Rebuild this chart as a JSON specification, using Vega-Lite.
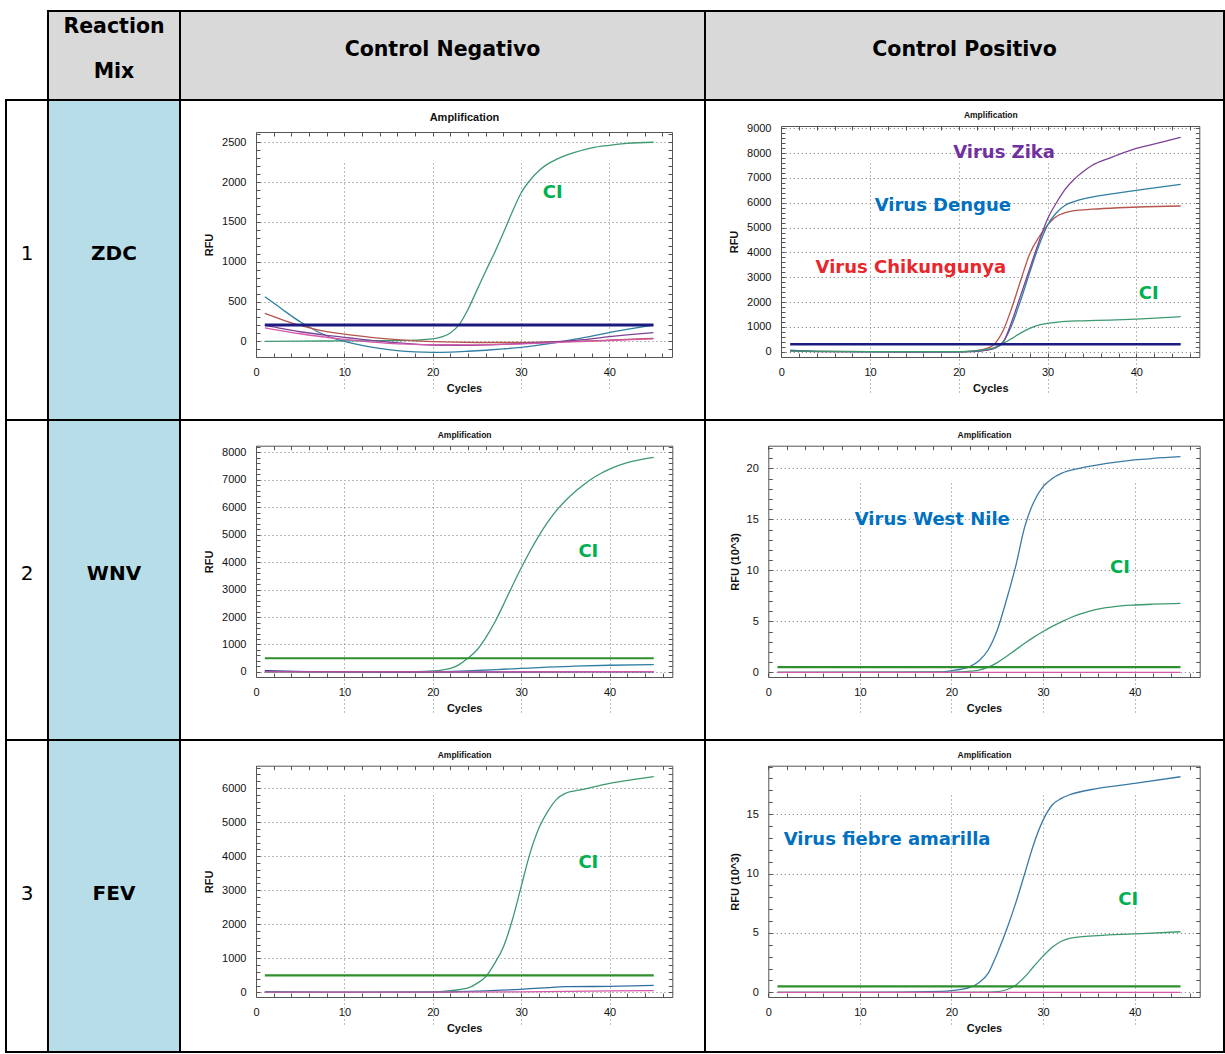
{
"$schema": "https://vega.github.io/schema/vega-lite/v6.json",
"padding": {"left": 5, "top": 10, "right": 0, "bottom": 0},
"background": "white",
"bounds": "flush",
"spacing": 0,
"columns": 4,
"config": {
  "view": {"stroke": "#000000", "strokeWidth": 2},
  "axis": {"labelFont": "Liberation Sans", "labelFontSize": 11, "labelColor": "#111111", "titleFont": "Liberation Sans", "titleFontSize": 11, "titleFontWeight": "bold", "titleColor": "#111111", "domainColor": "#555555", "domainWidth": 1, "tickColor": "#555555", "tickSize": -4, "tickWidth": 1, "gridColor": "#777777", "gridDash": [1, 3], "gridWidth": 1, "labelFlush": false, "labelOverlap": false, "format": "d"},
  "line": {"strokeWidth": 1.3, "interpolate": "monotone"},
  "text": {"font": "DejaVu Sans"}
},
"concat": [
    {"width": 42, "height": 89, "view": {"stroke": null, "fill": null}, "data": {"values": [{"t": ""}]}, "mark": {"type": "text"}, "encoding": {"text": {"field": "t"}}},
    {"width": 132, "height": 89, "view": {"fill": "#d9d9d9", "stroke": "#000000", "strokeWidth": 2}, "data": {"values": [{"t": "Reaction\nMix"}]}, "mark": {"type": "text", "font": "DejaVu Sans", "fontWeight": "bold", "fontSize": 20.5, "lineBreak": "\n", "lineHeight": 45, "dy": -28.5, "color": "#000000"}, "encoding": {"text": {"field": "t"}}},
    {"width": 525, "height": 89, "view": {"fill": "#d9d9d9", "stroke": "#000000", "strokeWidth": 2}, "data": {"values": [{"t": "Control Negativo"}]}, "mark": {"type": "text", "font": "DejaVu Sans", "fontWeight": "bold", "fontSize": 20.5, "dy": -6, "color": "#000000"}, "encoding": {"text": {"field": "t"}}},
    {"width": 519, "height": 89, "view": {"fill": "#d9d9d9", "stroke": "#000000", "strokeWidth": 2}, "data": {"values": [{"t": "Control Positivo"}]}, "mark": {"type": "text", "font": "DejaVu Sans", "fontWeight": "bold", "fontSize": 20.5, "dy": -6, "color": "#000000"}, "encoding": {"text": {"field": "t"}}},
    {"width": 42, "height": 320, "view": {"fill": "#ffffff", "stroke": "#000000", "strokeWidth": 2}, "data": {"values": [{"t": "1"}]}, "mark": {"type": "text", "font": "DejaVu Sans", "fontSize": 20, "dy": -6, "color": "#000000"}, "encoding": {"text": {"field": "t"}}},
    {"width": 132, "height": 320, "view": {"fill": "#b7dde8", "stroke": "#000000", "strokeWidth": 2}, "data": {"values": [{"t": "ZDC"}]}, "mark": {"type": "text", "font": "DejaVu Sans", "fontWeight": "bold", "fontSize": 20, "dy": -6, "color": "#000000"}, "encoding": {"text": {"field": "t"}}},
    {"width": 525, "height": 320,
     "data": {"values": [
        {"serie":"CI","cycle":1,"rfu":0},{"serie":"CI","cycle":5,"rfu":3},{"serie":"CI","cycle":10,"rfu":5},{"serie":"CI","cycle":15,"rfu":8},{"serie":"CI","cycle":18,"rfu":15},{"serie":"CI","cycle":20,"rfu":30},{"serie":"CI","cycle":21,"rfu":55},{"serie":"CI","cycle":22,"rfu":105},{"serie":"CI","cycle":23,"rfu":210},{"serie":"CI","cycle":24,"rfu":400},{"serie":"CI","cycle":25,"rfu":640},{"serie":"CI","cycle":26,"rfu":880},{"serie":"CI","cycle":27,"rfu":1110},{"serie":"CI","cycle":28,"rfu":1360},{"serie":"CI","cycle":29,"rfu":1620},{"serie":"CI","cycle":30,"rfu":1860},{"serie":"CI","cycle":31,"rfu":2020},{"serie":"CI","cycle":32,"rfu":2140},{"serie":"CI","cycle":33,"rfu":2225},{"serie":"CI","cycle":34,"rfu":2285},{"serie":"CI","cycle":36,"rfu":2370},{"serie":"CI","cycle":38,"rfu":2430},{"serie":"CI","cycle":40,"rfu":2462},{"serie":"CI","cycle":42,"rfu":2485},{"serie":"CI","cycle":45,"rfu":2500},
        {"serie":"Virus Dengue","cycle":1,"rfu":561},{"serie":"Virus Dengue","cycle":2,"rfu":480},{"serie":"Virus Dengue","cycle":3,"rfu":400},{"serie":"Virus Dengue","cycle":4,"rfu":320},{"serie":"Virus Dengue","cycle":5,"rfu":245},{"serie":"Virus Dengue","cycle":6,"rfu":180},{"serie":"Virus Dengue","cycle":7,"rfu":120},{"serie":"Virus Dengue","cycle":8,"rfu":70},{"serie":"Virus Dengue","cycle":9,"rfu":30},{"serie":"Virus Dengue","cycle":10,"rfu":0},{"serie":"Virus Dengue","cycle":12,"rfu":-50},{"serie":"Virus Dengue","cycle":14,"rfu":-90},{"serie":"Virus Dengue","cycle":16,"rfu":-118},{"serie":"Virus Dengue","cycle":18,"rfu":-133},{"serie":"Virus Dengue","cycle":20,"rfu":-138},{"serie":"Virus Dengue","cycle":22,"rfu":-135},{"serie":"Virus Dengue","cycle":24,"rfu":-125},{"serie":"Virus Dengue","cycle":26,"rfu":-112},{"serie":"Virus Dengue","cycle":28,"rfu":-95},{"serie":"Virus Dengue","cycle":30,"rfu":-75},{"serie":"Virus Dengue","cycle":32,"rfu":-48},{"serie":"Virus Dengue","cycle":34,"rfu":-15},{"serie":"Virus Dengue","cycle":36,"rfu":25},{"serie":"Virus Dengue","cycle":38,"rfu":65},{"serie":"Virus Dengue","cycle":40,"rfu":110},{"serie":"Virus Dengue","cycle":42,"rfu":150},{"serie":"Virus Dengue","cycle":45,"rfu":205},
        {"serie":"Virus Chikungunya","cycle":1,"rfu":350},{"serie":"Virus Chikungunya","cycle":3,"rfu":270},{"serie":"Virus Chikungunya","cycle":5,"rfu":200},{"serie":"Virus Chikungunya","cycle":7,"rfu":145},{"serie":"Virus Chikungunya","cycle":10,"rfu":90},{"serie":"Virus Chikungunya","cycle":13,"rfu":50},{"serie":"Virus Chikungunya","cycle":16,"rfu":20},{"serie":"Virus Chikungunya","cycle":20,"rfu":-5},{"serie":"Virus Chikungunya","cycle":25,"rfu":-15},{"serie":"Virus Chikungunya","cycle":30,"rfu":-15},{"serie":"Virus Chikungunya","cycle":35,"rfu":-5},{"serie":"Virus Chikungunya","cycle":40,"rfu":15},{"serie":"Virus Chikungunya","cycle":45,"rfu":38},
        {"serie":"Virus Zika","cycle":1,"rfu":205},{"serie":"Virus Zika","cycle":3,"rfu":160},{"serie":"Virus Zika","cycle":5,"rfu":120},{"serie":"Virus Zika","cycle":8,"rfu":75},{"serie":"Virus Zika","cycle":10,"rfu":50},{"serie":"Virus Zika","cycle":12,"rfu":25},{"serie":"Virus Zika","cycle":15,"rfu":-10},{"serie":"Virus Zika","cycle":18,"rfu":-35},{"serie":"Virus Zika","cycle":20,"rfu":-46},{"serie":"Virus Zika","cycle":24,"rfu":-50},{"serie":"Virus Zika","cycle":28,"rfu":-38},{"serie":"Virus Zika","cycle":32,"rfu":-18},{"serie":"Virus Zika","cycle":34,"rfu":-5},{"serie":"Virus Zika","cycle":37,"rfu":20},{"serie":"Virus Zika","cycle":40,"rfu":58},{"serie":"Virus Zika","cycle":42,"rfu":80},{"serie":"Virus Zika","cycle":45,"rfu":108},
        {"serie":"Canal 5","cycle":1,"rfu":170},{"serie":"Canal 5","cycle":5,"rfu":95},{"serie":"Canal 5","cycle":10,"rfu":25},{"serie":"Canal 5","cycle":15,"rfu":-25},{"serie":"Canal 5","cycle":20,"rfu":-42},{"serie":"Canal 5","cycle":25,"rfu":-45},{"serie":"Canal 5","cycle":30,"rfu":-32},{"serie":"Canal 5","cycle":35,"rfu":-10},{"serie":"Canal 5","cycle":40,"rfu":10},{"serie":"Canal 5","cycle":45,"rfu":30},
        {"serie":"Umbral","cycle":1,"rfu":205},{"serie":"Umbral","cycle":45,"rfu":205}
     ]},
     "layer": [
      {"transform": [{"filter": "datum.serie !== 'Umbral'"}],
       "mark": {"type": "line"},
       "encoding": {
        "x": {"field": "cycle", "type": "quantitative", "scale": {"domain": [0, 47.1], "range": [76, 492], "nice": false, "zero": false},
              "axis": {"orient": "bottom", "offset": -63, "values": [0,2,4,6,8,10,12,14,16,18,20,22,24,26,28,30,32,34,36,38,40,42,44,46], "labelExpr": "datum.value % 10 === 0 ? datum.label : ''", "labelPadding": 13, "grid": true, "gridOpacity": {"condition": {"test": "datum.value % 10 === 0 && datum.value > 0", "value": 1}, "value": 0}, "title": "Cycles", "titlePadding": 5}},
        "y": {"field": "rfu", "type": "quantitative", "scale": {"domain": [-197, 2629], "range": [257, 32], "nice": false, "zero": false},
              "axis": {"orient": "left", "offset": -76, "values": [-100,0,100,200,300,400,500,600,700,800,900,1000,1100,1200,1300,1400,1500,1600,1700,1800,1900,2000,2100,2200,2300,2400,2500,2600], "labelExpr": "datum.value % 500 === 0 ? datum.label : ''", "labelPadding": 14, "grid": true, "gridOpacity": {"condition": {"test": "datum.value % 500 === 0", "value": 1}, "value": 0}, "title": "RFU", "titlePadding": 7}},
        "color": {"field": "serie", "type": "nominal", "scale": {"domain": ["CI","Virus Dengue","Virus Chikungunya","Virus Zika","Canal 5"], "range": ["#3d9970","#2f7fa3","#b5544a","#7d4196","#d658a8"]}, "legend": null}
       }},
      {"transform": [{"filter": "datum.serie === 'Umbral'"}],
       "mark": {"type": "line", "color": "#1a1a80", "strokeWidth": 3},
       "encoding": {"x": {"field": "cycle", "type": "quantitative", "axis": null}, "y": {"field": "rfu", "type": "quantitative", "axis": null}}},
      {"data": {"values": [{"label": "CI", "cycle": 33.6, "rfu": 1863}]},
       "mark": {"type": "text", "font": "DejaVu Sans", "fontWeight": "bold", "fontSize": 18},
       "encoding": {
        "x": {"field": "cycle", "type": "quantitative", "axis": {"orient": "top", "offset": -32, "values": [0,2,4,6,8,10,12,14,16,18,20,22,24,26,28,30,32,34,36,38,40,42,44,46], "labels": false, "grid": false, "title": "Amplification", "titlePadding": 9}},
        "y": {"field": "rfu", "type": "quantitative", "axis": {"orient": "right", "offset": -33, "values": [-100,0,100,200,300,400,500,600,700,800,900,1000,1100,1200,1300,1400,1500,1600,1700,1800,1900,2000,2100,2200,2300,2400,2500,2600], "labels": false, "grid": false, "title": null}},
        "text": {"field": "label"},
        "color": {"field": "label", "type": "nominal", "scale": {"domain": ["CI"], "range": ["#00b050"]}, "legend": null}
       }}
     ],
     "resolve": {"axis": {"x": "independent", "y": "independent"}, "scale": {"color": "independent"}}
    },
    {"width": 519, "height": 320,
     "data": {"values": [
        {"serie":"Virus Chikungunya","cycle":1,"rfu":40},{"serie":"Virus Chikungunya","cycle":4,"rfu":10},{"serie":"Virus Chikungunya","cycle":10,"rfu":0},{"serie":"Virus Chikungunya","cycle":15,"rfu":-10},{"serie":"Virus Chikungunya","cycle":20,"rfu":0},{"serie":"Virus Chikungunya","cycle":21,"rfu":10},{"serie":"Virus Chikungunya","cycle":22,"rfu":40},{"serie":"Virus Chikungunya","cycle":23,"rfu":110},{"serie":"Virus Chikungunya","cycle":24,"rfu":300},{"serie":"Virus Chikungunya","cycle":25,"rfu":850},{"serie":"Virus Chikungunya","cycle":26,"rfu":1800},{"serie":"Virus Chikungunya","cycle":27,"rfu":2900},{"serie":"Virus Chikungunya","cycle":28,"rfu":3950},{"serie":"Virus Chikungunya","cycle":29,"rfu":4600},{"serie":"Virus Chikungunya","cycle":30,"rfu":5100},{"serie":"Virus Chikungunya","cycle":31,"rfu":5450},{"serie":"Virus Chikungunya","cycle":32,"rfu":5600},{"serie":"Virus Chikungunya","cycle":33,"rfu":5680},{"serie":"Virus Chikungunya","cycle":35,"rfu":5740},{"serie":"Virus Chikungunya","cycle":38,"rfu":5800},{"serie":"Virus Chikungunya","cycle":41,"rfu":5840},{"serie":"Virus Chikungunya","cycle":45,"rfu":5870},
        {"serie":"Virus Dengue","cycle":1,"rfu":60},{"serie":"Virus Dengue","cycle":4,"rfu":10},{"serie":"Virus Dengue","cycle":10,"rfu":-5},{"serie":"Virus Dengue","cycle":15,"rfu":-10},{"serie":"Virus Dengue","cycle":20,"rfu":-5},{"serie":"Virus Dengue","cycle":21,"rfu":0},{"serie":"Virus Dengue","cycle":22,"rfu":20},{"serie":"Virus Dengue","cycle":23,"rfu":60},{"serie":"Virus Dengue","cycle":24,"rfu":150},{"serie":"Virus Dengue","cycle":25,"rfu":400},{"serie":"Virus Dengue","cycle":26,"rfu":1100},{"serie":"Virus Dengue","cycle":27,"rfu":2100},{"serie":"Virus Dengue","cycle":28,"rfu":3200},{"serie":"Virus Dengue","cycle":29,"rfu":4250},{"serie":"Virus Dengue","cycle":30,"rfu":5100},{"serie":"Virus Dengue","cycle":31,"rfu":5600},{"serie":"Virus Dengue","cycle":32,"rfu":5900},{"serie":"Virus Dengue","cycle":33,"rfu":6050},{"serie":"Virus Dengue","cycle":35,"rfu":6230},{"serie":"Virus Dengue","cycle":38,"rfu":6400},{"serie":"Virus Dengue","cycle":41,"rfu":6550},{"serie":"Virus Dengue","cycle":45,"rfu":6740},
        {"serie":"Virus Zika","cycle":1,"rfu":30},{"serie":"Virus Zika","cycle":4,"rfu":5},{"serie":"Virus Zika","cycle":10,"rfu":0},{"serie":"Virus Zika","cycle":15,"rfu":-10},{"serie":"Virus Zika","cycle":20,"rfu":-5},{"serie":"Virus Zika","cycle":21,"rfu":0},{"serie":"Virus Zika","cycle":22,"rfu":15},{"serie":"Virus Zika","cycle":23,"rfu":50},{"serie":"Virus Zika","cycle":24,"rfu":130},{"serie":"Virus Zika","cycle":25,"rfu":380},{"serie":"Virus Zika","cycle":26,"rfu":1250},{"serie":"Virus Zika","cycle":27,"rfu":2300},{"serie":"Virus Zika","cycle":28,"rfu":3350},{"serie":"Virus Zika","cycle":29,"rfu":4400},{"serie":"Virus Zika","cycle":30,"rfu":5350},{"serie":"Virus Zika","cycle":31,"rfu":6000},{"serie":"Virus Zika","cycle":32,"rfu":6550},{"serie":"Virus Zika","cycle":33,"rfu":6950},{"serie":"Virus Zika","cycle":34,"rfu":7250},{"serie":"Virus Zika","cycle":35,"rfu":7500},{"serie":"Virus Zika","cycle":37,"rfu":7800},{"serie":"Virus Zika","cycle":40,"rfu":8190},{"serie":"Virus Zika","cycle":43,"rfu":8450},{"serie":"Virus Zika","cycle":45,"rfu":8635},
        {"serie":"CI","cycle":1,"rfu":20},{"serie":"CI","cycle":10,"rfu":0},{"serie":"CI","cycle":20,"rfu":0},{"serie":"CI","cycle":21,"rfu":10},{"serie":"CI","cycle":22,"rfu":40},{"serie":"CI","cycle":23,"rfu":80},{"serie":"CI","cycle":24,"rfu":160},{"serie":"CI","cycle":25,"rfu":330},{"serie":"CI","cycle":26,"rfu":537},{"serie":"CI","cycle":27,"rfu":760},{"serie":"CI","cycle":28,"rfu":940},{"serie":"CI","cycle":29,"rfu":1074},{"serie":"CI","cycle":30,"rfu":1140},{"serie":"CI","cycle":31,"rfu":1185},{"serie":"CI","cycle":32,"rfu":1220},{"serie":"CI","cycle":34,"rfu":1245},{"serie":"CI","cycle":37,"rfu":1275},{"serie":"CI","cycle":40,"rfu":1315},{"serie":"CI","cycle":43,"rfu":1370},{"serie":"CI","cycle":45,"rfu":1410},
        {"serie":"Umbral","cycle":1,"rfu":300},{"serie":"Umbral","cycle":45,"rfu":300}
     ]},
     "layer": [
      {"transform": [{"filter": "datum.serie !== 'Umbral'"}],
       "mark": {"type": "line"},
       "encoding": {
        "x": {"field": "cycle", "type": "quantitative", "scale": {"domain": [0, 47.1], "range": [76.3, 494.3], "nice": false, "zero": false},
              "axis": {"orient": "bottom", "offset": -63, "values": [0,2,4,6,8,10,12,14,16,18,20,22,24,26,28,30,32,34,36,38,40,42,44,46], "labelExpr": "datum.value % 10 === 0 ? datum.label : ''", "labelPadding": 13, "grid": true, "gridOpacity": {"condition": {"test": "datum.value % 10 === 0 && datum.value > 0", "value": 1}, "value": 0}, "title": "Cycles", "titlePadding": 5}},
        "y": {"field": "rfu", "type": "quantitative", "scale": {"domain": [-214, 9093], "range": [257, 26], "nice": false, "zero": false},
              "axis": {"orient": "left", "offset": -76, "values": [-200,0,200,400,600,800,1000,1200,1400,1600,1800,2000,2200,2400,2600,2800,3000,3200,3400,3600,3800,4000,4200,4400,4600,4800,5000,5200,5400,5600,5800,6000,6200,6400,6600,6800,7000,7200,7400,7600,7800,8000,8200,8400,8600,8800,9000], "labelExpr": "datum.value % 1000 === 0 ? datum.label : ''", "labelPadding": 14, "grid": true, "gridOpacity": {"condition": {"test": "datum.value % 1000 === 0", "value": 1}, "value": 0}, "title": "RFU", "titlePadding": 7}},
        "color": {"field": "serie", "type": "nominal", "scale": {"domain": ["CI","Virus Dengue","Virus Chikungunya","Virus Zika"], "range": ["#3d9970","#2f7fa3","#b5544a","#7d4196"]}, "legend": null}
       }},
      {"transform": [{"filter": "datum.serie === 'Umbral'"}],
       "mark": {"type": "line", "color": "#1a1a80", "strokeWidth": 2.5},
       "encoding": {"x": {"field": "cycle", "type": "quantitative", "axis": null}, "y": {"field": "rfu", "type": "quantitative", "axis": null}}},
      {"data": {"values": [{"label": "Virus Zika", "cycle": 25.1, "rfu": 8009}, {"label": "Virus Dengue", "cycle": 18.2, "rfu": 5865}, {"label": "Virus Chikungunya", "cycle": 14.6, "rfu": 3365}, {"label": "CI", "cycle": 41.4, "rfu": 2320}]},
       "mark": {"type": "text", "font": "DejaVu Sans", "fontWeight": "bold", "fontSize": 18},
       "encoding": {
        "x": {"field": "cycle", "type": "quantitative", "axis": {"orient": "top", "offset": -26, "values": [0,2,4,6,8,10,12,14,16,18,20,22,24,26,28,30,32,34,36,38,40,42,44,46], "labels": false, "grid": false, "title": "Amplification", "titleFontSize": 8.5, "titlePadding": 6}},
        "y": {"field": "rfu", "type": "quantitative", "axis": {"orient": "right", "offset": -24.7, "values": [-200,0,200,400,600,800,1000,1200,1400,1600,1800,2000,2200,2400,2600,2800,3000,3200,3400,3600,3800,4000,4200,4400,4600,4800,5000,5200,5400,5600,5800,6000,6200,6400,6600,6800,7000,7200,7400,7600,7800,8000,8200,8400,8600,8800,9000], "labels": false, "grid": false, "title": null}},
        "text": {"field": "label"},
        "color": {"field": "label", "type": "nominal", "scale": {"domain": ["Virus Zika","Virus Dengue","Virus Chikungunya","CI"], "range": ["#7030a0","#0070c0","#e8262c","#00b050"]}, "legend": null}
       }}
     ],
     "resolve": {"axis": {"x": "independent", "y": "independent"}, "scale": {"color": "independent"}}
    },
    {"width": 42, "height": 320, "view": {"fill": "#ffffff", "stroke": "#000000", "strokeWidth": 2}, "data": {"values": [{"t": "2"}]}, "mark": {"type": "text", "font": "DejaVu Sans", "fontSize": 20, "dy": -6, "color": "#000000"}, "encoding": {"text": {"field": "t"}}},
    {"width": 132, "height": 320, "view": {"fill": "#b7dde8", "stroke": "#000000", "strokeWidth": 2}, "data": {"values": [{"t": "WNV"}]}, "mark": {"type": "text", "font": "DejaVu Sans", "fontWeight": "bold", "fontSize": 20, "dy": -6, "color": "#000000"}, "encoding": {"text": {"field": "t"}}},
    {"width": 525, "height": 320,
     "data": {"values": [
        {"serie":"CI","cycle":1,"rfu":0},{"serie":"CI","cycle":10,"rfu":0},{"serie":"CI","cycle":18,"rfu":10},{"serie":"CI","cycle":20,"rfu":36},{"serie":"CI","cycle":21,"rfu":70},{"serie":"CI","cycle":22,"rfu":133},{"serie":"CI","cycle":23,"rfu":270},{"serie":"CI","cycle":24,"rfu":510},{"serie":"CI","cycle":25,"rfu":800},{"serie":"CI","cycle":26,"rfu":1250},{"serie":"CI","cycle":27,"rfu":1800},{"serie":"CI","cycle":28,"rfu":2450},{"serie":"CI","cycle":29,"rfu":3130},{"serie":"CI","cycle":30,"rfu":3780},{"serie":"CI","cycle":31,"rfu":4390},{"serie":"CI","cycle":32,"rfu":4950},{"serie":"CI","cycle":33,"rfu":5450},{"serie":"CI","cycle":34,"rfu":5880},{"serie":"CI","cycle":35,"rfu":6230},{"serie":"CI","cycle":36,"rfu":6530},{"serie":"CI","cycle":37,"rfu":6790},{"serie":"CI","cycle":38,"rfu":7030},{"serie":"CI","cycle":39,"rfu":7220},{"serie":"CI","cycle":40,"rfu":7380},{"serie":"CI","cycle":42,"rfu":7610},{"serie":"CI","cycle":45,"rfu":7805},
        {"serie":"Virus West Nile","cycle":1,"rfu":40},{"serie":"Virus West Nile","cycle":5,"rfu":15},{"serie":"Virus West Nile","cycle":10,"rfu":5},{"serie":"Virus West Nile","cycle":15,"rfu":5},{"serie":"Virus West Nile","cycle":20,"rfu":10},{"serie":"Virus West Nile","cycle":23,"rfu":30},{"serie":"Virus West Nile","cycle":25,"rfu":55},{"serie":"Virus West Nile","cycle":28,"rfu":100},{"serie":"Virus West Nile","cycle":30,"rfu":130},{"serie":"Virus West Nile","cycle":33,"rfu":175},{"serie":"Virus West Nile","cycle":36,"rfu":210},{"serie":"Virus West Nile","cycle":40,"rfu":245},{"serie":"Virus West Nile","cycle":45,"rfu":270},
        {"serie":"Canal 4","cycle":1,"rfu":45},{"serie":"Canal 4","cycle":4,"rfu":25},{"serie":"Canal 4","cycle":8,"rfu":10},{"serie":"Canal 4","cycle":15,"rfu":0},{"serie":"Canal 4","cycle":30,"rfu":0},{"serie":"Canal 4","cycle":45,"rfu":5},
        {"serie":"Canal 3","cycle":1,"rfu":8},{"serie":"Canal 3","cycle":20,"rfu":5},{"serie":"Canal 3","cycle":45,"rfu":12},
        {"serie":"Umbral","cycle":1,"rfu":500},{"serie":"Umbral","cycle":45,"rfu":500}
     ]},
     "layer": [
      {"transform": [{"filter": "datum.serie !== 'Umbral'"}],
       "mark": {"type": "line"},
       "encoding": {
        "x": {"field": "cycle", "type": "quantitative", "scale": {"domain": [0, 47.1], "range": [76, 492.3], "nice": false, "zero": false},
              "axis": {"orient": "bottom", "offset": -63, "values": [0,2,4,6,8,10,12,14,16,18,20,22,24,26,28,30,32,34,36,38,40,42,44,46], "labelExpr": "datum.value % 10 === 0 ? datum.label : ''", "labelPadding": 13, "grid": true, "gridOpacity": {"condition": {"test": "datum.value % 10 === 0 && datum.value > 0", "value": 1}, "value": 0}, "title": "Cycles", "titlePadding": 5}},
        "y": {"field": "rfu", "type": "quantitative", "scale": {"domain": [-182, 8230], "range": [257, 25.7], "nice": false, "zero": false},
              "axis": {"orient": "left", "offset": -76, "values": [0,200,400,600,800,1000,1200,1400,1600,1800,2000,2200,2400,2600,2800,3000,3200,3400,3600,3800,4000,4200,4400,4600,4800,5000,5200,5400,5600,5800,6000,6200,6400,6600,6800,7000,7200,7400,7600,7800,8000,8200], "labelExpr": "datum.value % 1000 === 0 ? datum.label : ''", "labelPadding": 14, "grid": true, "gridOpacity": {"condition": {"test": "datum.value % 1000 === 0", "value": 1}, "value": 0}, "title": "RFU", "titlePadding": 7}},
        "color": {"field": "serie", "type": "nominal", "scale": {"domain": ["CI","Virus West Nile","Canal 4","Canal 3"], "range": ["#3d9970","#2f7fa3","#33338c","#d658a8"]}, "legend": null}
       }},
      {"transform": [{"filter": "datum.serie === 'Umbral'"}],
       "mark": {"type": "line", "color": "#2d8f2d", "strokeWidth": 2.2},
       "encoding": {"x": {"field": "cycle", "type": "quantitative", "axis": null}, "y": {"field": "rfu", "type": "quantitative", "axis": null}}},
      {"data": {"values": [{"label": "CI", "cycle": 37.6, "rfu": 4364}]},
       "mark": {"type": "text", "font": "DejaVu Sans", "fontWeight": "bold", "fontSize": 18},
       "encoding": {
        "x": {"field": "cycle", "type": "quantitative", "axis": {"orient": "top", "offset": -25.7, "values": [0,2,4,6,8,10,12,14,16,18,20,22,24,26,28,30,32,34,36,38,40,42,44,46], "labels": false, "grid": false, "title": "Amplification", "titleFontSize": 8.5, "titlePadding": 6}},
        "y": {"field": "rfu", "type": "quantitative", "axis": {"orient": "right", "offset": -32.7, "values": [0,200,400,600,800,1000,1200,1400,1600,1800,2000,2200,2400,2600,2800,3000,3200,3400,3600,3800,4000,4200,4400,4600,4800,5000,5200,5400,5600,5800,6000,6200,6400,6600,6800,7000,7200,7400,7600,7800,8000,8200], "labels": false, "grid": false, "title": null}},
        "text": {"field": "label"},
        "color": {"field": "label", "type": "nominal", "scale": {"domain": ["CI"], "range": ["#00b050"]}, "legend": null}
       }}
     ],
     "resolve": {"axis": {"x": "independent", "y": "independent"}, "scale": {"color": "independent"}}
    },
    {"width": 519, "height": 320,
     "data": {"values": [
        {"serie":"Virus West Nile","cycle":1,"rfu":0},{"serie":"Virus West Nile","cycle":10,"rfu":0},{"serie":"Virus West Nile","cycle":19,"rfu":0.05},{"serie":"Virus West Nile","cycle":20,"rfu":0.16},{"serie":"Virus West Nile","cycle":21,"rfu":0.3},{"serie":"Virus West Nile","cycle":22,"rfu":0.56},{"serie":"Virus West Nile","cycle":23,"rfu":1.14},{"serie":"Virus West Nile","cycle":24,"rfu":2.19},{"serie":"Virus West Nile","cycle":25,"rfu":4.15},{"serie":"Virus West Nile","cycle":26,"rfu":7.09},{"serie":"Virus West Nile","cycle":27,"rfu":10.36},{"serie":"Virus West Nile","cycle":28,"rfu":14.28},{"serie":"Virus West Nile","cycle":29,"rfu":16.73},{"serie":"Virus West Nile","cycle":30,"rfu":18.2},{"serie":"Virus West Nile","cycle":31,"rfu":19.0},{"serie":"Virus West Nile","cycle":32,"rfu":19.5},{"serie":"Virus West Nile","cycle":34,"rfu":20.0},{"serie":"Virus West Nile","cycle":36,"rfu":20.33},{"serie":"Virus West Nile","cycle":38,"rfu":20.6},{"serie":"Virus West Nile","cycle":40,"rfu":20.82},{"serie":"Virus West Nile","cycle":42,"rfu":20.97},{"serie":"Virus West Nile","cycle":45,"rfu":21.14},
        {"serie":"CI","cycle":1,"rfu":0},{"serie":"CI","cycle":20,"rfu":0.02},{"serie":"CI","cycle":21.5,"rfu":0.07},{"serie":"CI","cycle":23,"rfu":0.22},{"serie":"CI","cycle":24,"rfu":0.5},{"serie":"CI","cycle":25,"rfu":0.95},{"serie":"CI","cycle":26,"rfu":1.55},{"serie":"CI","cycle":27,"rfu":2.2},{"serie":"CI","cycle":28,"rfu":2.85},{"serie":"CI","cycle":29,"rfu":3.45},{"serie":"CI","cycle":30,"rfu":4.0},{"serie":"CI","cycle":31,"rfu":4.5},{"serie":"CI","cycle":32,"rfu":4.95},{"serie":"CI","cycle":33,"rfu":5.35},{"serie":"CI","cycle":34,"rfu":5.7},{"serie":"CI","cycle":35,"rfu":5.98},{"serie":"CI","cycle":36,"rfu":6.2},{"serie":"CI","cycle":38,"rfu":6.47},{"serie":"CI","cycle":40,"rfu":6.6},{"serie":"CI","cycle":42,"rfu":6.68},{"serie":"CI","cycle":45,"rfu":6.76},
        {"serie":"Canal 3","cycle":1,"rfu":0},{"serie":"Canal 3","cycle":45,"rfu":0},
        {"serie":"Umbral","cycle":1,"rfu":0.5},{"serie":"Umbral","cycle":45,"rfu":0.5}
     ]},
     "layer": [
      {"transform": [{"filter": "datum.serie !== 'Umbral'"}],
       "mark": {"type": "line"},
       "encoding": {
        "x": {"field": "cycle", "type": "quantitative", "scale": {"domain": [0, 47.1], "range": [63.3, 494.7], "nice": false, "zero": false},
              "axis": {"orient": "bottom", "offset": -63, "values": [0,2,4,6,8,10,12,14,16,18,20,22,24,26,28,30,32,34,36,38,40,42,44,46], "labelExpr": "datum.value % 10 === 0 ? datum.label : ''", "labelPadding": 13, "grid": true, "gridOpacity": {"condition": {"test": "datum.value % 10 === 0 && datum.value > 0", "value": 1}, "value": 0}, "title": "Cycles", "titlePadding": 5}},
        "y": {"field": "rfu", "type": "quantitative", "scale": {"domain": [-0.46, 22.22], "range": [257, 25.7], "nice": false, "zero": false},
              "axis": {"orient": "left", "offset": -63.3, "values": [0,1,2,3,4,5,6,7,8,9,10,11,12,13,14,15,16,17,18,19,20,21,22], "labelExpr": "datum.value % 5 === 0 ? datum.label : ''", "labelPadding": 14, "grid": true, "gridOpacity": {"condition": {"test": "datum.value % 5 === 0", "value": 1}, "value": 0}, "title": "RFU (10^3)", "titlePadding": 6}},
        "color": {"field": "serie", "type": "nominal", "scale": {"domain": ["CI","Virus West Nile","Canal 3"], "range": ["#3d9970","#3a7aa6","#d658a8"]}, "legend": null}
       }},
      {"transform": [{"filter": "datum.serie === 'Umbral'"}],
       "mark": {"type": "line", "color": "#2d8f2d", "strokeWidth": 2.2},
       "encoding": {"x": {"field": "cycle", "type": "quantitative", "axis": null}, "y": {"field": "rfu", "type": "quantitative", "axis": null}}},
      {"data": {"values": [{"label": "Virus West Nile", "cycle": 17.9, "rfu": 14.93}, {"label": "CI", "cycle": 38.4, "rfu": 10.2}]},
       "mark": {"type": "text", "font": "DejaVu Sans", "fontWeight": "bold", "fontSize": 18},
       "encoding": {
        "x": {"field": "cycle", "type": "quantitative", "axis": {"orient": "top", "offset": -25.7, "values": [0,2,4,6,8,10,12,14,16,18,20,22,24,26,28,30,32,34,36,38,40,42,44,46], "labels": false, "grid": false, "title": "Amplification", "titleFontSize": 8.5, "titlePadding": 6}},
        "y": {"field": "rfu", "type": "quantitative", "axis": {"orient": "right", "offset": -24.3, "values": [0,1,2,3,4,5,6,7,8,9,10,11,12,13,14,15,16,17,18,19,20,21,22], "labels": false, "grid": false, "title": null}},
        "text": {"field": "label"},
        "color": {"field": "label", "type": "nominal", "scale": {"domain": ["Virus West Nile","CI"], "range": ["#0070c0","#00b050"]}, "legend": null}
       }}
     ],
     "resolve": {"axis": {"x": "independent", "y": "independent"}, "scale": {"color": "independent"}}
    },
    {"width": 42, "height": 312, "view": {"fill": "#ffffff", "stroke": "#000000", "strokeWidth": 2}, "data": {"values": [{"t": "3"}]}, "mark": {"type": "text", "font": "DejaVu Sans", "fontSize": 20, "dy": -2, "color": "#000000"}, "encoding": {"text": {"field": "t"}}},
    {"width": 132, "height": 312, "view": {"fill": "#b7dde8", "stroke": "#000000", "strokeWidth": 2}, "data": {"values": [{"t": "FEV"}]}, "mark": {"type": "text", "font": "DejaVu Sans", "fontWeight": "bold", "fontSize": 20, "dy": -2, "color": "#000000"}, "encoding": {"text": {"field": "t"}}},
    {"width": 525, "height": 312,
     "data": {"values": [
        {"serie":"CI","cycle":1,"rfu":0},{"serie":"CI","cycle":10,"rfu":0},{"serie":"CI","cycle":20,"rfu":10},{"serie":"CI","cycle":22,"rfu":49},{"serie":"CI","cycle":24,"rfu":130},{"serie":"CI","cycle":25,"rfu":264},{"serie":"CI","cycle":26,"rfu":460},{"serie":"CI","cycle":27,"rfu":851},{"serie":"CI","cycle":28,"rfu":1341},{"serie":"CI","cycle":29,"rfu":2124},{"serie":"CI","cycle":30,"rfu":3103},{"serie":"CI","cycle":31,"rfu":4082},{"serie":"CI","cycle":32,"rfu":4816},{"serie":"CI","cycle":33,"rfu":5305},{"serie":"CI","cycle":34,"rfu":5667},{"serie":"CI","cycle":35,"rfu":5843},{"serie":"CI","cycle":37,"rfu":5961},{"serie":"CI","cycle":40,"rfu":6137},{"serie":"CI","cycle":43,"rfu":6260},{"serie":"CI","cycle":45,"rfu":6333},
        {"serie":"Virus fiebre amarilla","cycle":1,"rfu":20},{"serie":"Virus fiebre amarilla","cycle":10,"rfu":5},{"serie":"Virus fiebre amarilla","cycle":20,"rfu":5},{"serie":"Virus fiebre amarilla","cycle":23,"rfu":20},{"serie":"Virus fiebre amarilla","cycle":26,"rfu":45},{"serie":"Virus fiebre amarilla","cycle":30,"rfu":88},{"serie":"Virus fiebre amarilla","cycle":33,"rfu":140},{"serie":"Virus fiebre amarilla","cycle":35,"rfu":166},{"serie":"Virus fiebre amarilla","cycle":40,"rfu":176},{"serie":"Virus fiebre amarilla","cycle":45,"rfu":205},
        {"serie":"Canal 3","cycle":1,"rfu":5},{"serie":"Canal 3","cycle":20,"rfu":5},{"serie":"Canal 3","cycle":30,"rfu":15},{"serie":"Canal 3","cycle":40,"rfu":40},{"serie":"Canal 3","cycle":45,"rfu":50},
        {"serie":"Umbral","cycle":1,"rfu":500},{"serie":"Umbral","cycle":45,"rfu":500}
     ]},
     "layer": [
      {"transform": [{"filter": "datum.serie !== 'Umbral'"}],
       "mark": {"type": "line"},
       "encoding": {
        "x": {"field": "cycle", "type": "quantitative", "scale": {"domain": [0, 47.1], "range": [76, 492.3], "nice": false, "zero": false},
              "axis": {"orient": "bottom", "offset": -55, "values": [0,2,4,6,8,10,12,14,16,18,20,22,24,26,28,30,32,34,36,38,40,42,44,46], "labelExpr": "datum.value % 10 === 0 ? datum.label : ''", "labelPadding": 13, "grid": true, "gridOpacity": {"condition": {"test": "datum.value % 10 === 0 && datum.value > 0", "value": 1}, "value": 0}, "title": "Cycles", "titlePadding": 5}},
        "y": {"field": "rfu", "type": "quantitative", "scale": {"domain": [-137, 6656], "range": [257, 25.7], "nice": false, "zero": false},
              "axis": {"orient": "left", "offset": -76, "values": [0,200,400,600,800,1000,1200,1400,1600,1800,2000,2200,2400,2600,2800,3000,3200,3400,3600,3800,4000,4200,4400,4600,4800,5000,5200,5400,5600,5800,6000,6200,6400,6600], "labelExpr": "datum.value % 1000 === 0 ? datum.label : ''", "labelPadding": 14, "grid": true, "gridOpacity": {"condition": {"test": "datum.value % 1000 === 0", "value": 1}, "value": 0}, "title": "RFU", "titlePadding": 7}},
        "color": {"field": "serie", "type": "nominal", "scale": {"domain": ["CI","Virus fiebre amarilla","Canal 3"], "range": ["#3d9970","#2f6f9f","#d658a8"]}, "legend": null}
       }},
      {"transform": [{"filter": "datum.serie === 'Umbral'"}],
       "mark": {"type": "line", "color": "#2d8f2d", "strokeWidth": 2.2},
       "encoding": {"x": {"field": "cycle", "type": "quantitative", "axis": null}, "y": {"field": "rfu", "type": "quantitative", "axis": null}}},
      {"data": {"values": [{"label": "CI", "cycle": 37.6, "rfu": 3797}]},
       "mark": {"type": "text", "font": "DejaVu Sans", "fontWeight": "bold", "fontSize": 18},
       "encoding": {
        "x": {"field": "cycle", "type": "quantitative", "axis": {"orient": "top", "offset": -25.7, "values": [0,2,4,6,8,10,12,14,16,18,20,22,24,26,28,30,32,34,36,38,40,42,44,46], "labels": false, "grid": false, "title": "Amplification", "titleFontSize": 8.5, "titlePadding": 6}},
        "y": {"field": "rfu", "type": "quantitative", "axis": {"orient": "right", "offset": -32.7, "values": [0,200,400,600,800,1000,1200,1400,1600,1800,2000,2200,2400,2600,2800,3000,3200,3400,3600,3800,4000,4200,4400,4600,4800,5000,5200,5400,5600,5800,6000,6200,6400,6600], "labels": false, "grid": false, "title": null}},
        "text": {"field": "label"},
        "color": {"field": "label", "type": "nominal", "scale": {"domain": ["CI"], "range": ["#00b050"]}, "legend": null}
       }}
     ],
     "resolve": {"axis": {"x": "independent", "y": "independent"}, "scale": {"color": "independent"}}
    },
    {"width": 519, "height": 312,
     "data": {"values": [
        {"serie":"Virus fiebre amarilla","cycle":1,"rfu":0},{"serie":"Virus fiebre amarilla","cycle":10,"rfu":0},{"serie":"Virus fiebre amarilla","cycle":19,"rfu":0.08},{"serie":"Virus fiebre amarilla","cycle":20,"rfu":0.14},{"serie":"Virus fiebre amarilla","cycle":21,"rfu":0.25},{"serie":"Virus fiebre amarilla","cycle":22,"rfu":0.42},{"serie":"Virus fiebre amarilla","cycle":23,"rfu":0.81},{"serie":"Virus fiebre amarilla","cycle":24,"rfu":1.6},{"serie":"Virus fiebre amarilla","cycle":25,"rfu":3.28},{"serie":"Virus fiebre amarilla","cycle":26,"rfu":5.24},{"serie":"Virus fiebre amarilla","cycle":27,"rfu":7.49},{"serie":"Virus fiebre amarilla","cycle":28,"rfu":10.0},{"serie":"Virus fiebre amarilla","cycle":29,"rfu":12.53},{"serie":"Virus fiebre amarilla","cycle":30,"rfu":14.49},{"serie":"Virus fiebre amarilla","cycle":31,"rfu":15.76},{"serie":"Virus fiebre amarilla","cycle":32,"rfu":16.32},{"serie":"Virus fiebre amarilla","cycle":33,"rfu":16.65},{"serie":"Virus fiebre amarilla","cycle":36,"rfu":17.16},{"serie":"Virus fiebre amarilla","cycle":40,"rfu":17.58},{"serie":"Virus fiebre amarilla","cycle":45,"rfu":18.14},
        {"serie":"CI","cycle":1,"rfu":0},{"serie":"CI","cycle":20,"rfu":0},{"serie":"CI","cycle":24,"rfu":0.02},{"serie":"CI","cycle":25,"rfu":0.06},{"serie":"CI","cycle":26,"rfu":0.22},{"serie":"CI","cycle":27,"rfu":0.6},{"serie":"CI","cycle":28,"rfu":1.3},{"serie":"CI","cycle":29,"rfu":2.2},{"serie":"CI","cycle":30,"rfu":3.05},{"serie":"CI","cycle":31,"rfu":3.8},{"serie":"CI","cycle":32,"rfu":4.3},{"serie":"CI","cycle":33,"rfu":4.56},{"serie":"CI","cycle":34,"rfu":4.67},{"serie":"CI","cycle":36,"rfu":4.78},{"serie":"CI","cycle":40,"rfu":4.92},{"serie":"CI","cycle":45,"rfu":5.1},
        {"serie":"Canal 3","cycle":1,"rfu":0},{"serie":"Canal 3","cycle":45,"rfu":0},
        {"serie":"Umbral","cycle":1,"rfu":0.5},{"serie":"Umbral","cycle":45,"rfu":0.5}
     ]},
     "layer": [
      {"transform": [{"filter": "datum.serie !== 'Umbral'"}],
       "mark": {"type": "line"},
       "encoding": {
        "x": {"field": "cycle", "type": "quantitative", "scale": {"domain": [0, 47.1], "range": [63.3, 494.7], "nice": false, "zero": false},
              "axis": {"orient": "bottom", "offset": -55, "values": [0,2,4,6,8,10,12,14,16,18,20,22,24,26,28,30,32,34,36,38,40,42,44,46], "labelExpr": "datum.value % 10 === 0 ? datum.label : ''", "labelPadding": 13, "grid": true, "gridOpacity": {"condition": {"test": "datum.value % 10 === 0 && datum.value > 0", "value": 1}, "value": 0}, "title": "Cycles", "titlePadding": 5}},
        "y": {"field": "rfu", "type": "quantitative", "scale": {"domain": [-0.39, 19.07], "range": [257, 25.7], "nice": false, "zero": false},
              "axis": {"orient": "left", "offset": -63.3, "values": [0,1,2,3,4,5,6,7,8,9,10,11,12,13,14,15,16,17,18,19], "labelExpr": "datum.value % 5 === 0 ? datum.label : ''", "labelPadding": 14, "grid": true, "gridOpacity": {"condition": {"test": "datum.value % 5 === 0", "value": 1}, "value": 0}, "title": "RFU (10^3)", "titlePadding": 6}},
        "color": {"field": "serie", "type": "nominal", "scale": {"domain": ["CI","Virus fiebre amarilla","Canal 3"], "range": ["#3d9970","#3a7aa6","#d658a8"]}, "legend": null}
       }},
      {"transform": [{"filter": "datum.serie === 'Umbral'"}],
       "mark": {"type": "line", "color": "#2d8f2d", "strokeWidth": 2.2},
       "encoding": {"x": {"field": "cycle", "type": "quantitative", "axis": null}, "y": {"field": "rfu", "type": "quantitative", "axis": null}}},
      {"data": {"values": [{"label": "Virus fiebre amarilla", "cycle": 12.97, "rfu": 12.8}, {"label": "CI", "cycle": 39.3, "rfu": 7.77}]},
       "mark": {"type": "text", "font": "DejaVu Sans", "fontWeight": "bold", "fontSize": 18},
       "encoding": {
        "x": {"field": "cycle", "type": "quantitative", "axis": {"orient": "top", "offset": -25.7, "values": [0,2,4,6,8,10,12,14,16,18,20,22,24,26,28,30,32,34,36,38,40,42,44,46], "labels": false, "grid": false, "title": "Amplification", "titleFontSize": 8.5, "titlePadding": 6}},
        "y": {"field": "rfu", "type": "quantitative", "axis": {"orient": "right", "offset": -24.3, "values": [0,1,2,3,4,5,6,7,8,9,10,11,12,13,14,15,16,17,18,19], "labels": false, "grid": false, "title": null}},
        "text": {"field": "label"},
        "color": {"field": "label", "type": "nominal", "scale": {"domain": ["Virus fiebre amarilla","CI"], "range": ["#0070c0","#00b050"]}, "legend": null}
       }}
     ],
     "resolve": {"axis": {"x": "independent", "y": "independent"}, "scale": {"color": "independent"}}
    }
]
}
